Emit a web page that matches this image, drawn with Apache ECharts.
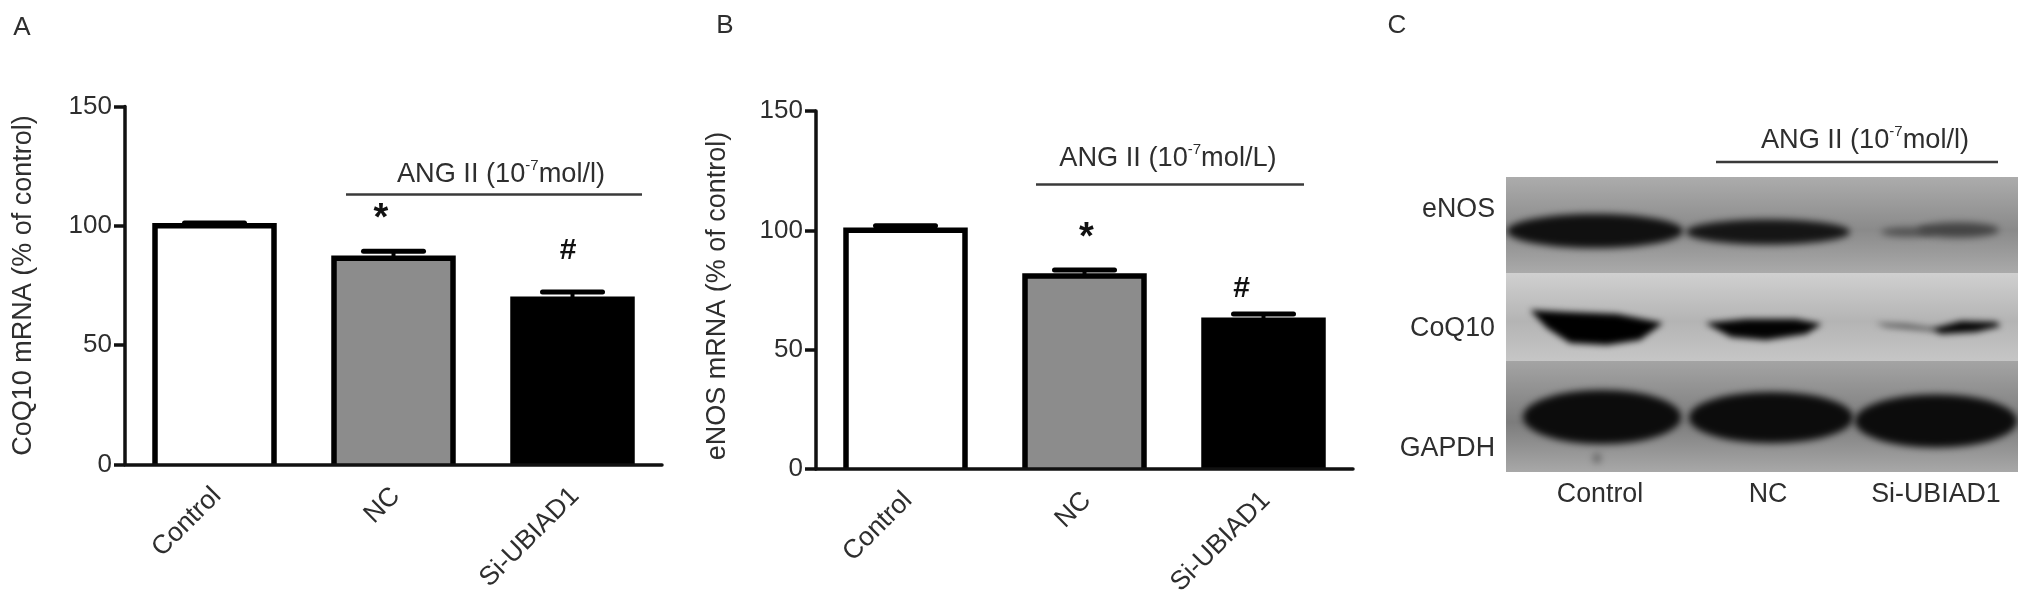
<!DOCTYPE html>
<html><head><meta charset="utf-8">
<style>html,body{margin:0;padding:0;background:#fff}#c{width:2031px;height:603px;filter:blur(0.5px)}</style>
<script src="https://cdn.jsdelivr.net/npm/echarts@6/dist/echarts.min.js"></script>
</head><body><div id="c"></div>
<script>
const categories = ['Control', 'NC', 'Si-UBIAD1'];
const coq10Values = [100, 86.4, 69.2];
const coq10ErrorTops = [101.2, 89.3, 72.3];
const enosValues = [100, 80.9, 62.3];
const enosErrorTops = [101.9, 83.4, 64.9];
const yTicks = [0, 50, 100, 150];
const barFills = ['#ffffff', '#8c8c8c', '#000000'];
// Western blot, panel C: axes are in blot units
const blotRowLabels = ['eNOS', 'CoQ10', 'GAPDH'];
const blotRowLabelPos = [33, 152, 272];
const blotLanePos = [94, 262, 430];
// from, to, grey at top / middle / bottom
const blotRows = [
  [0, 96, '#acacac', '#8a8a8a', '#aaaaaa'],
  [96, 184, '#d0d0d0', '#b4b4b4', '#c6c6c6'],
  [184, 295, '#a4a4a4', '#7c7c7c', '#a8a8a8']
];
// cx, cy, half width, half height, grey level
const blotBands = [
  [89, 54, 88, 17, '#101010'], [262, 55, 82, 12.5, '#151515'], [402, 55, 27, 4.5, '#505050'], [452, 53, 41, 7.5, '#444444'],
  [96, 240, 79, 27, '#0c0c0c'], [265, 240.6, 82, 25.5, '#0c0c0c'], [430, 244, 81, 26.5, '#0c0c0c'], [91, 281, 4, 5, '#666666']
];
// irregular CoQ10 bands: grey level, then outline points
const blotSmears = [
  ['#000000', [[24, 133], [61, 135], [111, 137], [157, 146], [134, 163], [101, 168], [64, 166], [41, 151]]],
  ['#030303', [[199, 146], [240, 142], [290, 142], [316, 147], [300, 157], [260, 163], [225, 160]]],
  ['#555555', [[369, 146], [400, 147], [430, 151], [425, 154], [380, 150]]],
  ['#050505', [[424, 152], [455, 144], [490, 145], [495, 149], [470, 155], [435, 157]]]
];

const font = '"Liberation Sans", Arial, sans-serif';
const ink = '#2e2e2e';
const off = 4000;

function barChart(idx, values, tops) {
  return [{
    type: 'bar', xAxisIndex: idx, yAxisIndex: idx, barWidth: 119, z: 3,
    data: values.map((v, i) => ({ value: v, itemStyle: { color: barFills[i] } }))
  }, {
    type: 'custom', xAxisIndex: idx, yAxisIndex: idx, z: 4,
    data: values.map((v, i) => [i, v]),
    renderItem(p, api) {
      const t = api.coord([api.value(0), api.value(1)]);
      const o = api.coord([api.value(0), 0]);
      const h = 59.5;
      return { type: 'polyline', shape: { points: [[t[0] - h, o[1]], [t[0] - h, t[1]], [t[0] + h, t[1]], [t[0] + h, o[1]]] },
        style: { stroke: '#000', fill: null, lineWidth: 5.5, lineJoin: 'miter' } };
    }
  }, {
    type: 'custom', xAxisIndex: idx, yAxisIndex: idx, z: 2,
    data: tops.map((t, i) => [i, values[i], t]),
    renderItem(p, api) {
      const a = api.coord([api.value(0), api.value(1)]);
      const b = api.coord([api.value(0), api.value(2)]);
      return { type: 'group', children: [
        { type: 'line', shape: { x1: a[0], y1: a[1], x2: b[0], y2: b[1] }, style: { stroke: '#000', lineWidth: 4 } },
        { type: 'line', shape: { x1: b[0] - 30, y1: b[1], x2: b[0] + 30, y2: b[1] }, style: { stroke: '#000', lineWidth: 5, lineCap: 'round' } }
      ] };
    }
  }];
}
function axes(idx, name, gap, pad) {
  return {
    x: { gridIndex: idx, type: 'category', data: categories, z: 10,
      axisLine: { lineStyle: { color: '#111', width: 3.5 } },
      axisTick: { alignWithLabel: true, length: 13, lineStyle: { color: '#111', width: 3.5 } },
      axisLabel: { rotate: 45, margin: 25, color: ink, fontFamily: font, fontSize: 26.5,
        formatter: v => '{t|' + v + '}',
        rich: { t: { padding: [7, 0, 0, 0], color: ink, fontFamily: font, fontSize: 26.5 } } } },
    y: { gridIndex: idx, type: 'value', min: 0, max: 150, interval: 50, name, nameLocation: 'middle', nameGap: gap, z: 10,
      nameRotate: 90, nameTextStyle: { color: ink, fontFamily: font, fontSize: 27, padding: pad },
      splitLine: { show: false },
      axisLine: { show: true, lineStyle: { color: '#111', width: 3.5 } },
      axisTick: { show: true, length: 11, lineStyle: { color: '#111', width: 3.5 } },
      axisLabel: { margin: 13, color: ink, fontFamily: font, fontSize: 26, customValues: yTicks } }
  };
}
const a0 = axes(0, 'CoQ10 mRNA (% of control)', 88, [0, 0, 0, 0]);
const a1 = axes(1, 'eNOS mRNA (% of control)', 85, [0, 12, 0, 0]);

function label(x, y, text, size, extra) {
  return { type: 'text', x, y, z: 20, style: Object.assign({ text, fill: ink, font: size + 'px ' + font, align: 'center', verticalAlign: 'middle' }, extra || {}) };
}
function mark(x, y, text, size) {
  return { type: 'text', x, y, z: 20, style: { text, fill: '#111', font: 'bold ' + size + 'px ' + font, align: 'center', verticalAlign: 'middle' } };
}
function angText(x, y, tail) {
  return { type: 'text', x, y, z: 20, style: {
    text: '{a|ANG II (10}{s|-7}{a|' + tail + '}', align: 'center', verticalAlign: 'middle', fill: ink,
    rich: { a: { font: '27.2px ' + font, fill: ink, lineHeight: 30, verticalAlign: 'bottom' },
            s: { font: '15px ' + font, fill: ink, lineHeight: 30, verticalAlign: 'top' } } } };
}
function rule(x1, x2, y) {
  return { type: 'line', z: 20, shape: { x1, y1: y, x2, y2: y }, style: { stroke: '#3a3a3a', lineWidth: 2.5 } };
}

const blotSeries = {
  type: 'custom', xAxisIndex: 2, yAxisIndex: 2, coordinateSystem: 'cartesian2d', clip: true, z: 2,
  data: [0],
  renderItem(p, api) {
    const children = [];
    blotRows.forEach(r => {
      const a = api.coord([0, r[0]]), b = api.coord([512, r[1]]);
      children.push({ type: 'rect', shape: { x: a[0], y: a[1], width: b[0] - a[0], height: b[1] - a[1] },
        style: { fill: new echarts.graphic.LinearGradient(0, 0, 0, 1, [
          { offset: 0, color: r[2] }, { offset: 0.55, color: r[3] }, { offset: 1, color: r[4] }]) } });
    });
    // only the blurred shadow of each shape lands on the blot, so the band edges stay soft
    blotBands.forEach(d => {
      const c = api.coord([d[0], d[1]]), e = api.coord([d[0] + d[2], d[1] + d[3]]);
      children.push({ type: 'ellipse', shape: { cx: c[0] - off, cy: c[1], rx: e[0] - c[0], ry: e[1] - c[1] },
        style: { fill: d[4], shadowBlur: 7, shadowColor: d[4], shadowOffsetX: off } });
    });
    blotSmears.forEach(d => {
      const pts = d[1].map(q => { const c = api.coord(q); return [c[0] - off, c[1]]; });
      children.push({ type: 'polygon', shape: { points: pts },
        style: { fill: d[0], shadowBlur: 6, shadowColor: d[0], shadowOffsetX: off } });
    });
    return { type: 'group', children };
  }
};

const option = {
  animation: false,
  backgroundColor: '#fff',
  grid: [
    { left: 125, top: 106.5, width: 537, height: 358 },
    { left: 816, top: 111, width: 537, height: 358 },
    { left: 1506, top: 177, width: 512, height: 295 }
  ],
  xAxis: [a0.x, a1.x, { gridIndex: 2, type: 'value', min: 0, max: 512, splitLine: { show: false },
    axisLine: { show: false }, axisTick: { show: false },
    axisLabel: { customValues: blotLanePos, margin: 9, color: ink, fontFamily: font, fontSize: 26.8,
      formatter: v => categories[blotLanePos.indexOf(v)] } }],
  yAxis: [a0.y, a1.y, { gridIndex: 2, type: 'value', min: 0, max: 295, inverse: true, splitLine: { show: false },
    axisLine: { show: false }, axisTick: { show: false },
    axisLabel: { customValues: blotRowLabelPos, margin: 11, color: ink, fontFamily: font, fontSize: 26.8,
      formatter: v => blotRowLabels[blotRowLabelPos.indexOf(v)] } }],
  series: [...barChart(0, coq10Values, coq10ErrorTops), ...barChart(1, enosValues, enosErrorTops), blotSeries],
  graphic: [
    label(22, 28, 'A', 26), label(725, 26, 'B', 26), label(1397, 26, 'C', 26),
    angText(501, 173, 'mol/l)'), rule(346, 642, 194.5),
    angText(1168, 157, 'mol/L)'), rule(1036, 1304, 184.5),
    angText(1865, 139, 'mol/l)'), rule(1716, 1998, 162),
    mark(381, 220, '*', 38), mark(568, 251, '#', 30),
    mark(1086.5, 239, '*', 38), mark(1241.5, 288.5, '#', 30)
  ]
};
echarts.init(document.getElementById('c'), null, { renderer: 'canvas' }).setOption(option);
</script></body></html>
